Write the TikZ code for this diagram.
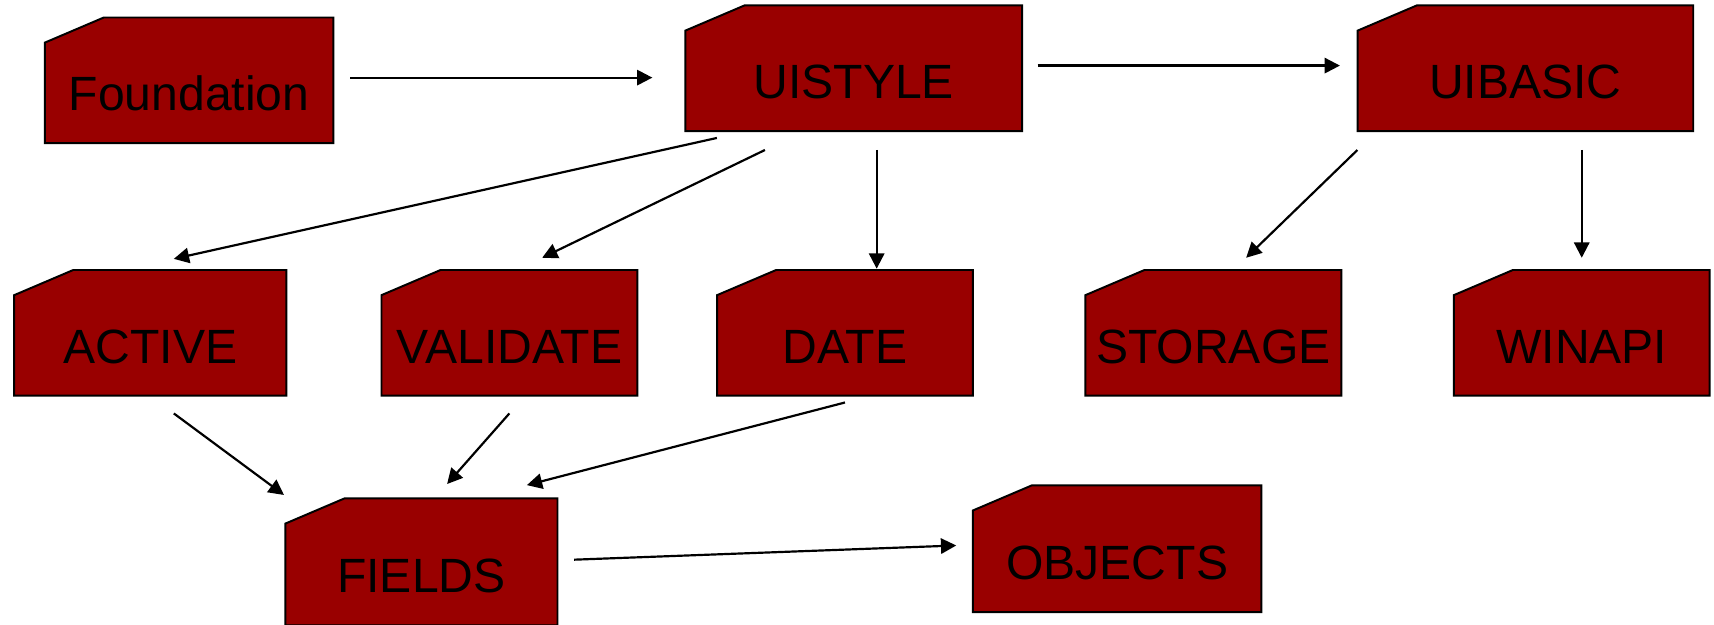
\documentclass[tikz,border=0pt]{standalone}
\usepackage{fontspec}
\setmainfont{Liberation Sans}
\usetikzlibrary{arrows.meta,calc,fit}
\definecolor{boxred}{HTML}{990000}
\tikzset{
  boxstyle/.style={fill=boxred, draw=black, line width=1.8pt},
  lbl/.style={anchor=base, inner sep=0pt, font=\fontsize{44}{50}\selectfont},
  arr/.style={-{Triangle[length=14pt,width=14pt]}, line width=2pt},
}
\newcommand\chbox[6]{%
  \coordinate (#1-nw) at (#2,#3);
  \coordinate (#1-se) at (#4,#5);
  \node[fit=(#1-nw)(#1-se), inner sep=0pt] (#1) {};
  \filldraw[boxstyle] (#2,#3+23) -- (#2+54,#3) -- (#4,#3) -- (#4,#5) -- (#2,#5) -- cycle;
  \node[lbl] at ($(#1.center)+(0,28)$) {#6};
}
\begin{document}
\begin{tikzpicture}[x=1pt,y=-1pt]
\useasboundingbox (0,0) rectangle (1568,571);
\chbox{found}{41}{16}{305}{131}{Foundation}
\chbox{ui}{627}{5}{935}{120}{UISTYLE}
\chbox{basic}{1242}{5}{1549}{120}{UIBASIC}
\chbox{active}{13}{247}{262}{362}{ACTIVE}
\chbox{valid}{349}{247}{583}{362}{VALIDATE}
\chbox{date}{656}{247}{890}{362}{DATE}
\chbox{stor}{993}{247}{1227}{362}{STORAGE}
\chbox{win}{1330}{247}{1564}{362}{WINAPI}
\chbox{fields}{261}{456}{510}{572}{FIELDS}
\chbox{obj}{890}{444}{1154}{560}{OBJECTS}

\draw[arr] ($(found.east)+(15,-2.5)$) -- ($(ui.west)+(-30,8.5)$);
\draw[arr] ($(ui.east)+(14,-2.5)$) -- ($(basic.west)+(-16,-2.5)$);
\draw[arr] ($(ui.south west)+(29,6)$) -- ($(active.north)+(21.5,-10)$);
\draw[arr] ($(ui.south west)+(73,17)$) -- ($(valid.north)+(30,-11)$);
\draw[arr] ($(ui.south)+(21,17)$) -- ($(date.north)+(29,-1)$);
\draw[arr] ($(basic.south west)+(0,17)$) -- ($(stor.north)+(30,-11)$);
\draw[arr] ($(basic.south)+(51.5,17)$) -- ($(win.north)+(0,-11)$);
\draw[arr] ($(active.south)+(21.5,16)$) -- ($(fields.north west)+(-1,-3)$);
\draw[arr] ($(valid.south)+(0,16)$) -- ($(fields.north)+(23.5,-13)$);
\draw[arr] ($(date.south)+(0,6)$) -- ($(fields.north)+(96.5,-12)$);
\draw[arr] ($(fields.east)+(15,-2)$) -- ($(obj.west)+(-15,-3)$);
\end{tikzpicture}
\end{document}
